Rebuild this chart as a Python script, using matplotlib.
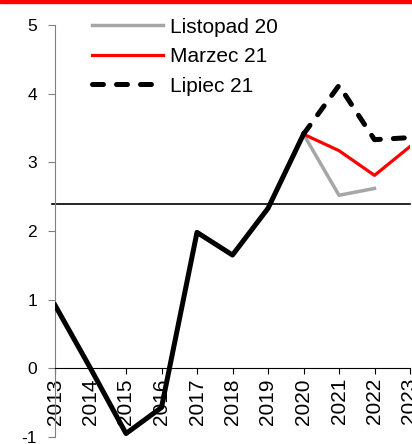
import matplotlib
matplotlib.use("Agg")
import matplotlib.pyplot as plt
from matplotlib.patches import Rectangle

plt.rcParams['font.family'] = ['Liberation Sans', 'DejaVu Sans']

years = list(range(2013, 2024))
history_years = [2013, 2014, 2015, 2016, 2017, 2018, 2019, 2020]
history = [0.92, 0.0, -0.95, -0.57, 1.98, 1.65, 2.33, 3.41]
fc_years = [2020, 2021, 2022, 2023]
listopad20 = [3.41, 2.52, 2.62]
marzec21 = [3.41, 3.17, 2.81, 3.23]
lipiec21 = [3.41, 4.12, 3.33, 3.36]
ref_level = 2.4

fig = plt.figure(figsize=(4.12, 4.44), dpi=100)
ax = fig.add_axes([55/412, 1-437/444, 355/412, 412/444])

ax.plot(fc_years[:3], listopad20, color='#a6a6a6', lw=2.5, label='Listopad 20', zorder=3)
ax.plot(fc_years, marzec21, color='#ff0000', lw=2.3, label='Marzec 21', zorder=4)
ax.plot(fc_years, lipiec21, color='black', lw=3.6, ls=(0, (2.2, 2.6)),
        dash_capstyle='round', label='Lipiec 21', zorder=5)
ax.plot(history_years, history, color='black', lw=3.6, zorder=6)
ax.plot([2012.92, 2023], [ref_level, ref_level], color='black', lw=1.2, clip_on=False, zorder=2)

for s in ['top', 'right']:
    ax.spines[s].set_visible(False)
ax.spines['bottom'].set_position(('data', 0))
ax.spines['bottom'].set_color('black')
ax.spines['left'].set_color('#808080')

ax.set_xlim(2013, 2023)
ax.set_ylim(-1, 5)
ax.set_xticks(years)
ax.set_xticklabels([str(y) for y in years], fontsize=15)
ax.set_yticks(range(-1, 6))
ax.set_yticklabels([str(v) for v in range(-1, 6)], fontsize=12.5)
ax.tick_params(axis='y', length=5, color='#808080', pad=8)
ax.tick_params(axis='x', length=4, pad=3, labelrotation=90)

leg = ax.legend(loc='upper left', bbox_to_anchor=(0.08, 1.038), frameon=False,
                fontsize=15, handlelength=3.4, handletextpad=0.35, labelspacing=0.5,
                borderaxespad=0.0)

fig.patches.append(Rectangle((0, 1-3/444), 1, 3/444, transform=fig.transFigure,
                             color='#ff0000', zorder=10))

fig.savefig('out.png', dpi=100)
